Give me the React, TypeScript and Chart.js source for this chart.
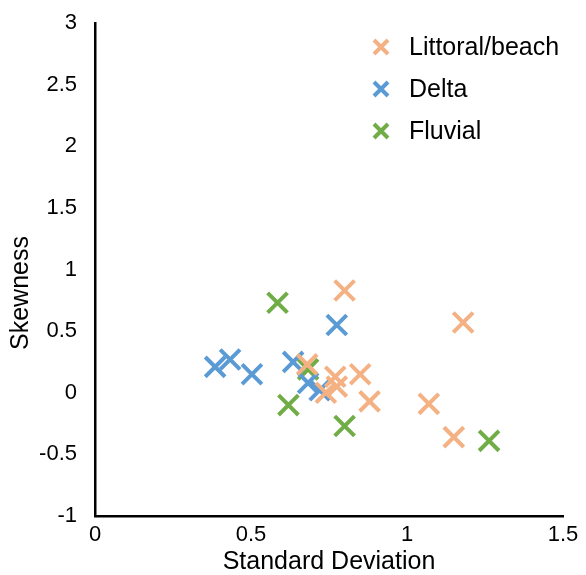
import React, { useEffect, useRef } from "react";
import { Chart, registerables } from "chart.js";
Chart.register(...registerables);

const seriesNames = ["Littoral/beach", "Delta", "Fluvial"];
const seriesColors = ["#F4B183", "#5B9BD5", "#70AD47"];

const littoralX = [0.80, 1.18, 0.85, 0.88, 1.07, 1.15, 0.68, 0.77, 0.775, 0.74];
const littoralY = [0.83, 0.57, 0.15, -0.07, -0.09, -0.36, 0.23, 0.13, 0.05, 0.0];

const deltaX = [0.385, 0.433, 0.503, 0.635, 0.683, 0.72, 0.775];
const deltaY = [0.21, 0.27, 0.15, 0.25, 0.08, 0.02, 0.55];

const fluvialX = [0.585, 0.683, 0.62, 0.80, 1.263];
const fluvialY = [0.73, 0.19, -0.10, -0.27, -0.39];

const xTicks = [0, 0.5, 1, 1.5];
const yTicks = [-1, -0.5, 0, 0.5, 1, 1.5, 2, 2.5, 3];

const xTitle = "Standard Deviation";
const yTitle = "Skewness";

const FONT = "'Liberation Sans', Arial, sans-serif";

function toPoints(xs: number[], ys: number[]) {
  return xs.map((x, i) => ({ x, y: ys[i] }));
}

const legendPlugin = {
  id: "customLegend",
  afterDraw(chart: any) {
    const ctx = chart.ctx;
    const x0 = 381;
    const rows = [47, 89, 131];
    ctx.save();
    seriesNames.forEach((name, i) => {
      const y = rows[i];
      const r = 7;
      ctx.strokeStyle = seriesColors[i];
      ctx.lineWidth = 4;
      ctx.beginPath();
      ctx.moveTo(x0 - r, y - r);
      ctx.lineTo(x0 + r, y + r);
      ctx.moveTo(x0 + r, y - r);
      ctx.lineTo(x0 - r, y + r);
      ctx.stroke();
      ctx.fillStyle = "#000";
      ctx.font = `25px ${FONT}`;
      ctx.textBaseline = "middle";
      ctx.textAlign = "left";
      ctx.fillText(name, 409, y + 1);
    });
    // y-axis title (Excel places it slightly below centre)
    ctx.translate(21, 293);
    ctx.rotate(-Math.PI / 2);
    ctx.font = `25px ${FONT}`;
    ctx.textAlign = "center";
    ctx.textBaseline = "middle";
    ctx.fillStyle = "#000";
    ctx.fillText(yTitle, 0, 0);
    ctx.restore();
  },
};

export default function App() {
  const ref = useRef<HTMLCanvasElement>(null);
  useEffect(() => {
    document.body.style.margin = "0";
    const data = [
      toPoints(littoralX, littoralY),
      toPoints(deltaX, deltaY),
      toPoints(fluvialX, fluvialY),
    ];
    const chart = new Chart(ref.current!, {
      type: "scatter",
      data: {
        datasets: seriesNames.map((name, i) => ({
          label: name,
          data: data[i],
          pointStyle: "crossRot",
          pointRadius: 14,
          pointHoverRadius: 14,
          pointBorderWidth: 4,
          borderColor: seriesColors[i],
          backgroundColor: seriesColors[i],
        })),
      },
      options: {
        animation: false,
        responsive: false,
        maintainAspectRatio: false,
        layout: { padding: { top: 23, right: 23, left: 0, bottom: 0 } },
        plugins: { legend: { display: false }, tooltip: { enabled: false } },
        scales: {
          x: {
            type: "linear",
            min: 0,
            max: 1.5,
            afterBuildTicks: (s: any) => {
              s.ticks = xTicks.map((v) => ({ value: v }));
            },
            afterFit: (s: any) => {
              s.height = 59;
              s.paddingLeft = 0;
              s.paddingRight = 0;
            },
            grid: { display: false, drawTicks: false },
            border: { display: true, color: "#000", width: 2.5 },
            ticks: {
              color: "#000",
              font: { family: FONT, size: 22 },
              padding: 6,
              maxRotation: 0,
              callback: (v: any) => String(v),
            },
            title: {
              display: true,
              text: xTitle,
              color: "#000",
              font: { family: FONT, size: 25, lineHeight: 1 },
              padding: { top: 0, bottom: 0 },
            },
          },
          y: {
            type: "linear",
            min: -1,
            max: 3,
            afterBuildTicks: (s: any) => {
              s.ticks = yTicks.map((v) => ({ value: v }));
            },
            afterFit: (s: any) => {
              s.width = 95;
              s.paddingTop = 0;
              s.paddingBottom = 0;
            },
            grid: { display: false, drawTicks: false },
            border: { display: true, color: "#000", width: 2.5 },
            ticks: {
              color: "#000",
              font: { family: FONT, size: 22 },
              padding: 18,
              callback: (v: any) => String(v),
            },
            title: { display: false },
          },
        },
      },
      plugins: [legendPlugin],
    });
    return () => chart.destroy();
  }, []);
  return (
    <div style={{ width: 586, height: 575, background: "#fff" }}>
      <canvas ref={ref} width={586} height={575} style={{ display: "block" }} />
    </div>
  );
}
